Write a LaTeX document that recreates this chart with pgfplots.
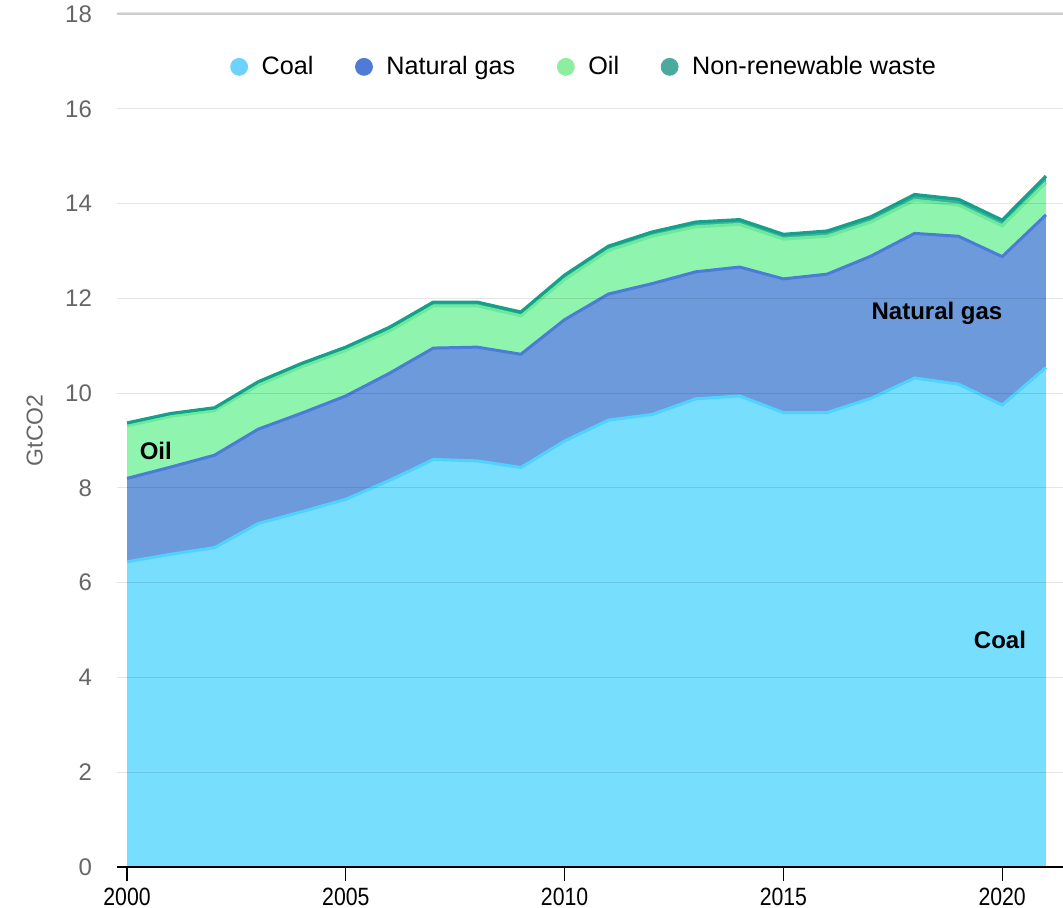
\documentclass[border=0pt]{standalone}
\usepackage{pgfplots}
\pgfplotsset{compat=1.18}
\usepackage{pgfplotstable}
\usepackage{fontspec}
\setmainfont{Liberation Sans}

\definecolor{coalFill}{HTML}{77DEFE}
\definecolor{coalLine}{HTML}{4FD2FD}
\definecolor{gasFill}{HTML}{6C9ADB}
\definecolor{gasLine}{HTML}{4A7CD8}
\definecolor{oilFill}{HTML}{8FF5AE}
\definecolor{oilLine}{HTML}{6CE99B}
\definecolor{wasteFill}{HTML}{3BB29E}
\definecolor{wasteLine}{HTML}{15A08A}
\definecolor{coalDot}{HTML}{6DD3FE}
\definecolor{gasDot}{HTML}{4F7BD5}
\definecolor{oilDot}{HTML}{8DEE9F}
\definecolor{wasteDot}{HTML}{4AAA9E}
\definecolor{tickgray}{HTML}{666666}

% GtCO2 by source
\pgfplotstableread{
year coal gas  oil  waste
2000 6.44 1.76 1.11 0.06
2001 6.60 1.84 1.07 0.06
2002 6.74 1.95 0.94 0.06
2003 7.25 1.99 0.93 0.07
2004 7.50 2.08 0.98 0.07
2005 7.76 2.18 0.96 0.07
2006 8.16 2.26 0.89 0.08
2007 8.60 2.35 0.89 0.08
2008 8.57 2.40 0.87 0.08
2009 8.43 2.39 0.81 0.08
2010 8.99 2.56 0.85 0.09
2011 9.43 2.66 0.92 0.09
2012 9.55 2.76 1.00 0.09
2013 9.88 2.68 0.95 0.10
2014 9.94 2.72 0.90 0.10
2015 9.59 2.82 0.84 0.10
2016 9.59 2.92 0.80 0.11
2017 9.89 3.00 0.72 0.11
2018 10.32 3.05 0.70 0.12
2019 10.19 3.12 0.66 0.12
2020 9.75 3.13 0.65 0.12
2021 10.54 3.22 0.68 0.14
}\emissions

\begin{document}
\begin{tikzpicture}
\path[use as bounding box] (-58.5pt,-20.5pt) rectangle (473pt,433.5pt);
\begin{axis}[
    at={(0,0)}, anchor=south west,
    scale only axis, width=473pt, height=426.5pt,
    xmin=1999.77, xmax=2021.39, ymin=0, ymax=18,
    xtick={2000,2005,2010,2015,2020},
    xticklabels={2000,2005,2010,2015,2020},
    ytick={0,2,...,18},
    axis x line*=bottom, axis y line*=left,
    x axis line style={black, line width=1pt},
    y axis line style={draw=none},
    xtick align=outside, major tick length=7pt,
    xtick style={black, line width=0.6pt},
    ytick style={draw=none},
    xticklabel style={font=\fontsize{12.5}{14}\selectfont, xscale=0.85, black},
    yticklabel style={font=\fontsize{12}{14}\selectfont, tickgray, xshift=-9pt},
    /pgf/number format/assume math mode=true,
    ymajorgrids, grid style={black, opacity=0.1, line width=0.6pt},
    axis on top,
    clip=false,
    ylabel={GtCO2},
    ylabel style={at={(axis description cs:-0.087,0.512)}, anchor=center,
        font=\fontsize{11.5}{14}\selectfont, tickgray},
    legend columns=4,
    legend style={at={(0.495,0.938)}, anchor=center, draw=none, fill=none,
        font=\fontsize{12.6}{15}\selectfont,
        /tikz/every odd column/.append style={column sep=5pt},
        /tikz/every even column/.append style={column sep=19pt}},
]
% stacked areas, drawn from the total down
\addplot[forget plot, draw=none, fill=wasteFill] table[x=year, y expr=\thisrow{coal}+\thisrow{gas}+\thisrow{oil}+\thisrow{waste}] {\emissions} \closedcycle;
\addplot[forget plot, draw=none, fill=oilFill] table[x=year, y expr=\thisrow{coal}+\thisrow{gas}+\thisrow{oil}] {\emissions} \closedcycle;
\addplot[forget plot, draw=none, fill=gasFill] table[x=year, y expr=\thisrow{coal}+\thisrow{gas}] {\emissions} \closedcycle;
\addplot[forget plot, draw=none, fill=coalFill] table[x=year, y=coal] {\emissions} \closedcycle;
% boundary lines
\addplot[forget plot, coalLine, line width=1.5pt] table[x=year, y=coal] {\emissions};
\addplot[forget plot, gasLine, line width=1.5pt] table[x=year, y expr=\thisrow{coal}+\thisrow{gas}] {\emissions};
\addplot[forget plot, oilLine, line width=1.5pt] table[x=year, y expr=\thisrow{coal}+\thisrow{gas}+\thisrow{oil}] {\emissions};
\addplot[forget plot, wasteLine, line width=1.6pt] table[x=year, y expr=\thisrow{coal}+\thisrow{gas}+\thisrow{oil}+\thisrow{waste}] {\emissions};

\draw[black!10, line width=1.5pt] (rel axis cs:0,1) -- (rel axis cs:1,1);

\addlegendimage{only marks, mark=*, mark size=4.25pt, color=coalDot}
\addlegendentry{Coal}
\addlegendimage{only marks, mark=*, mark size=4.25pt, color=gasDot}
\addlegendentry{Natural gas}
\addlegendimage{only marks, mark=*, mark size=4.25pt, color=oilDot}
\addlegendentry{Oil}
\addlegendimage{only marks, mark=*, mark size=4.25pt, color=wasteDot}
\addlegendentry{Non-renewable waste}

\node[anchor=west, font=\bfseries\fontsize{12}{14}\selectfont] at (axis cs:2000.13,8.78) {Oil};
\node[font=\bfseries\fontsize{12}{14}\selectfont] at (axis cs:2018.51,11.69) {Natural gas};
\node[font=\bfseries\fontsize{12}{14}\selectfont] at (axis cs:2019.95,4.79) {Coal};
\end{axis}
\end{tikzpicture}
\end{document}
